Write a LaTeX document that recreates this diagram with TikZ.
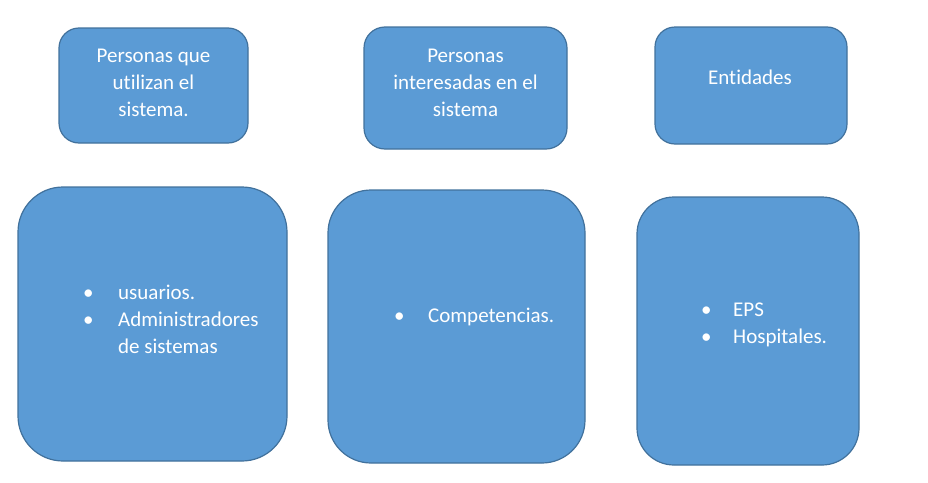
\documentclass[tikz,border=0pt]{standalone}
\usepackage{fontspec}
\setmainfont{Carlito}[Ligatures={TeX,NoCommon}]
\usepackage{tikz}

\definecolor{boxfill}{HTML}{5B9BD5}
\definecolor{boxline}{HTML}{41719C}
\newcommand{\bul}[1]{\makebox[#1][l]{\textbullet}}

\begin{document}
\begin{tikzpicture}[x=1pt, y=-1pt]
                \useasboundingbox (0,0) rectangle (928,482);

                \begin{scope}[every node/.style={draw=boxline, fill=boxfill, line width=1.2pt, inner sep=0pt}]
                        \node [minimum width=189pt, minimum height=115pt, rounded corners=20pt] (Usan) at (153.5,85.5) {};
                        \node [minimum width=203pt, minimum height=122pt, rounded corners=21pt] (Inter) at (465.5,88) {};
                        \node [minimum width=192pt, minimum height=117pt, rounded corners=20pt] (Ent) at (751,85.5) {};
                        \node [minimum width=269pt, minimum height=274pt, rounded corners=45pt] (UsanL) at (152.5,324) {};
                        \node [minimum width=257pt, minimum height=273pt, rounded corners=43pt] (InterL) at (456.5,326.5) {};
                        \node [minimum width=222pt, minimum height=268pt, rounded corners=37pt] (EntL) at (748,331) {};
                \end{scope}

                \begin{scope}[every node/.style={text=white, inner sep=0pt, font=\fontsize{21}{27}\selectfont}]
                        \node [align=center] (UsanT) at (153.5,83) {Personas que\\utilizan el\\sistema.};
                        \node [align=center] (InterT) at (465.5,83) {Personas\\interesadas en el\\sistema};
                        \node (EntT) at (750,77) {Entidades};
                        \node [align=left, anchor=west] (UsanList) at (83,319) {\bul{35pt}usuarios.\\\bul{35pt}Administradores\\\hspace*{35pt}de sistemas};
                        \node [align=left, anchor=west] (InterList) at (394,317) {\bul{34pt}Competencias.};
                        \node [align=left, anchor=west] (EntList) at (701,325) {\bul{32pt}EPS\\\bul{32pt}Hospitales.};
                \end{scope}
        \end{tikzpicture}
\end{document}
